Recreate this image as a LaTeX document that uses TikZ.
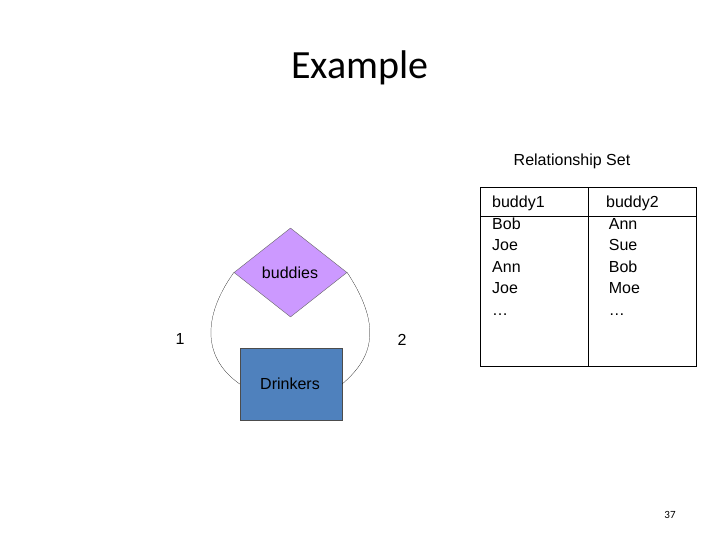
\documentclass[tikz,border=0pt]{standalone}
\usepackage{fontspec}
\setmainfont{Liberation Sans}
\newfontfamily\titlefont{Carlito}
\usetikzlibrary{shapes.geometric, positioning}
\definecolor{lilac}{HTML}{CC99FF}
\definecolor{steel}{HTML}{4F81BD}

\begin{document}
\begin{tikzpicture}[
    x=1pt, y=-1pt,
    label/.style={font=\fontsize{16}{21.5}\selectfont, inner sep=0pt},
    relation/.style={diamond, draw=black!60, fill=lilac, minimum width=113pt, minimum height=89pt, inner sep=0pt},
    entity/.style={rectangle, draw=black!70, fill=steel, minimum width=102pt, minimum height=72pt},
    column/.style={label, align=left, anchor=north west},
    link/.style={draw=black, very thin}
]
\useasboundingbox (0,0) rectangle (720,540);

\node[font=\titlefont\fontsize{40}{40}\selectfont] (title) at (360,68) {Example};

% E/R part
\node[relation] (buddies) at (290.5,272.5) {};
\node[label] (buddieslbl) at (290,273) {buddies};
\node[entity] (drinkers) at (291,384) {};
\node[label] (drinkerslbl) at (290,384) {Drinkers};

\draw[link] (buddies.west) .. controls (200,320) and (205,360) .. (drinkers.west);
\draw[link] (buddies.east) .. controls (385,330) and (370,360) .. (drinkers.east);

\node[label] (one) at (180,339) {1};
\node[label] (two) at (402,340) {2};

% relationship set table
\node[label] (setlbl) at (572,161) {Relationship Set};
\node[draw, minimum width=108pt, minimum height=179pt, anchor=north west] (leftcol) at (480,187) {};
\node[draw, minimum width=108pt, minimum height=179pt, anchor=north west] (rightcol) at (588,187) {};
\draw (480,216) -- (696,216);
\node[column] (names1) at (492,196) {buddy1\\Bob\\Joe\\Ann\\Joe\\\dots};
\node[column] (names2) at (606,196) {buddy2\\\,Ann\\\,Sue\\\,Bob\\\,Moe\\\,\dots};

\node[font=\titlefont\fontsize{11}{11}\selectfont] (page) at (670,515) {37};
\end{tikzpicture}
\end{document}
